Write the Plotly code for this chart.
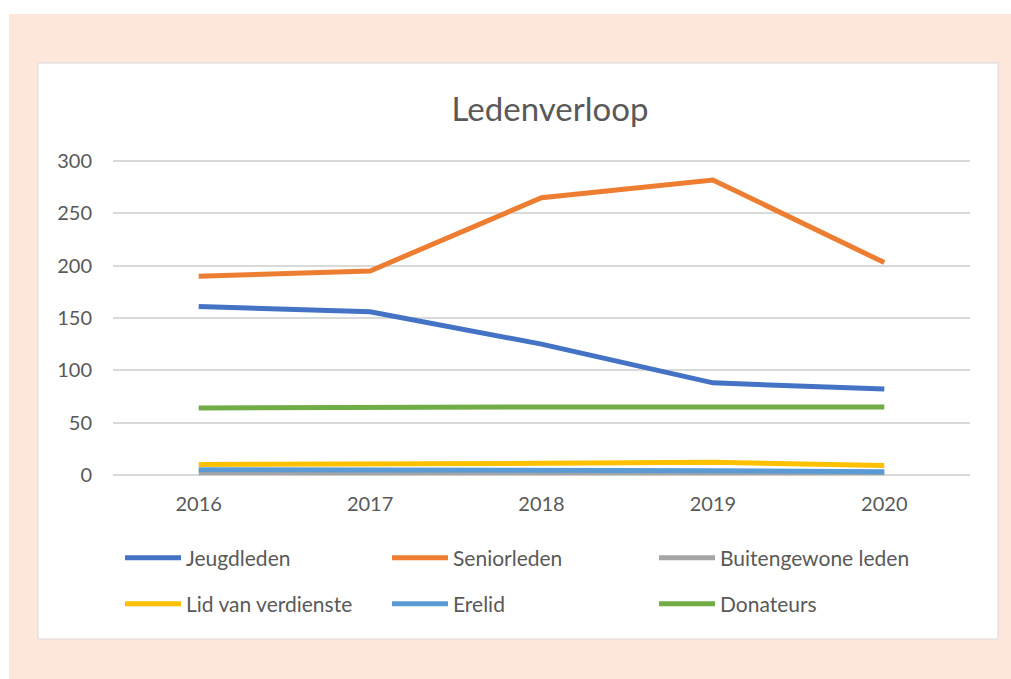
import plotly.graph_objects as go

years = ["2016", "2017", "2018", "2019", "2020"]
jeugdleden = [161, 156, 125, 88, 82]
seniorleden = [190, 195, 265, 282, 203]
buitengewone = [2, 2, 2, 2, 2]
verdienste = [10, 10, 11, 12, 9]
erelid = [5, 5, 5, 4, 3]
donateurs = [64, 65, 65, 65, 65]
y_ticks = [0, 50, 100, 150, 200, 250, 300]

series = [
    ("Jeugdleden", jeugdleden, "#4472C4", "legend"),
    ("Seniorleden", seniorleden, "#ED7D31", "legend"),
    ("Buitengewone leden", buitengewone, "#A5A5A5", "legend"),
    ("Lid van verdienste", verdienste, "#FFC000", "legend2"),
    ("Erelid", erelid, "#5B9BD5", "legend2"),
    ("Donateurs", donateurs, "#70AD47", "legend2"),
]

W, H = 1011, 679
L, R, T, B = 113, 41, 158, 201
pw, ph = W - L - R, H - T - B

def px(x):
    return (x - L) / pw

def py(y):
    return (H - B - y) / ph

fig = go.Figure()
for name, vals, col, lg in series:
    fig.add_trace(go.Scatter(x=years, y=vals, name=name, mode="lines",
                             line=dict(color=col, width=5), legend=lg))

font = "Lato, 'Open Sans', sans-serif"
leg_common = dict(orientation="h", xanchor="left", yanchor="middle",
                  entrywidth=196, entrywidthmode="pixels", itemwidth=56,
                  font=dict(size=21),
                  bgcolor="rgba(0,0,0,0)", traceorder="normal")
fig.update_layout(
    width=W, height=H,
    margin=dict(l=L, r=R, t=T, b=B),
    paper_bgcolor="white", plot_bgcolor="rgba(0,0,0,0)",
    font=dict(family=font, color="#595959"),
    title=dict(text="Ledenverloop", x=px(550), xref="paper", xanchor="center",
               y=1 - 109 / H, yanchor="middle", font=dict(size=33, color="#595959")),
    xaxis=dict(type="category", range=[-0.5, 4.5], showgrid=False, showline=False,
               ticks="", tickfont=dict(size=20), zeroline=False, ticklabelstandoff=12),
    yaxis=dict(range=[-3, 303], tickvals=y_ticks, showgrid=True, gridcolor="#D9D9D9",
               gridwidth=1.5, zeroline=False, showline=False, ticks="",
               tickfont=dict(size=20), ticklabelstandoff=20),
    legend=dict(x=px(120), y=py(558), **leg_common),
    legend2=dict(x=px(120), y=py(604), **leg_common),
    shapes=[
        dict(type="rect", xref="paper", yref="paper", x0=px(9), x1=px(1011),
             y0=py(679), y1=py(14), fillcolor="#FDE6DA", line=dict(width=0), layer="below"),
        dict(type="rect", xref="paper", yref="paper", x0=px(38), x1=px(998),
             y0=py(639), y1=py(63), fillcolor="white", line=dict(color="#D9D9D9", width=1),
             layer="below"),
    ],
    showlegend=True,
)
fig.write_html("out.html", config={"displayModeBar": False},
               post_script="document.body.style.margin='0px';")
